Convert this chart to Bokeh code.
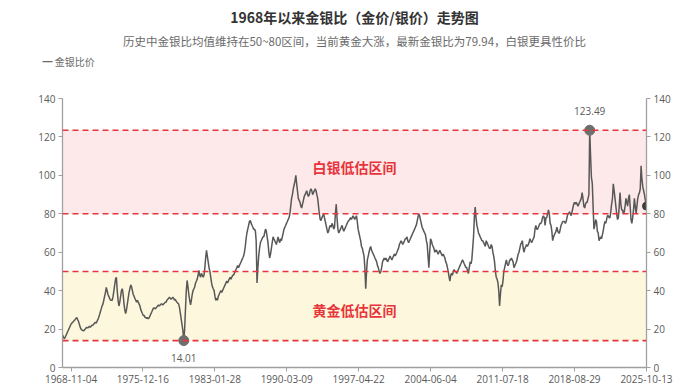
import pandas as pd
from bokeh.plotting import figure
from bokeh.models import (Range1d, LinearAxis, FixedTicker, DatetimeTickFormatter,
                          BoxAnnotation, Span, Label, Title, ColumnDataSource)
from bokeh.embed import file_html
from bokeh.resources import INLINE

# ---------------- data ----------------
title_text = "1968年以来金银比（金价/银价）走势图"
subtitle_text = "历史中金银比均值维持在50~80区间，当前黄金大涨，最新金银比为79.94，白银更具性价比"
series_name = "金银比价"
silver_zone_label = "白银低估区间"
gold_zone_label = "黄金低估区间"
zone_low_top = 50
zone_high_bottom = 80

x_tick_labels = ["1968-11-04", "1975-12-16", "1983-01-28", "1990-03-09", "1997-04-22",
                 "2004-06-04", "2011-07-18", "2018-08-29", "2025-10-13"]
y_ticks = [0, 20, 40, 60, 80, 100, 120, 140]

first_month = "1968-01-01"
last_date = "2025-10-13"

# monthly gold/silver ratio
ratio_1968_1979 = [
    17, 16, 15, 15.5, 16.5, 17.5, 18.5, 19.5, 20.5, 21.5, 22.5, 23,
    23.5, 24, 24.5, 25, 25.5, 26, 25, 24, 22.5, 21, 20, 19.5,
    19.3, 19, 19.5, 20, 20.5, 21, 20.5, 21, 21.5, 21, 21.5, 22,
    22, 22.5, 23, 23.5, 23, 24, 25, 26, 27.5, 29, 30.5, 32,
    33, 35, 37, 39, 41.7, 40, 38, 37, 36, 35, 35, 35,
    37, 40, 43, 46, 47, 40, 35, 32, 34, 37, 40, 41,
    38, 33, 30, 28, 30, 33, 36, 39, 41, 43, 42, 40,
    38, 37, 36, 35, 34, 35, 34, 33, 32, 30, 29, 28,
    27, 27, 26, 26, 25.5, 26, 25.3, 26, 27, 28, 29, 30,
    31, 31, 30.5, 31, 31.5, 32, 32.5, 32, 32.5, 33, 33, 32.5,
    33, 33.5, 34, 34, 35, 35.5, 36, 36.6, 36, 35.5, 36, 36.6,
    36, 35, 35.5, 34.5, 34, 33.5, 33, 31, 28, 25, 22, 19,
]
ratio_1980_1989 = [
    14.01, 20, 30, 40, 45.3, 42, 38, 35, 32.6, 35, 38, 40,
    41, 42, 44, 45, 46, 48, 50.5, 48, 47, 49, 48, 47,
    48, 52, 57, 61, 58, 55, 52, 50, 47, 44, 42, 41,
    40, 37, 35, 36, 35, 37, 38, 39, 40, 39, 40, 41,
    42, 43, 44, 45, 44, 45, 46, 47, 46, 47, 48, 48,
    49, 50, 51, 52, 53, 52, 53, 54, 55, 56, 57, 58,
    60, 63, 67, 70, 72, 74, 76, 76.5, 75, 74, 73, 72,
    72, 71, 66, 44, 52, 58, 62, 65, 66, 67, 68, 68,
    70, 72, 71, 68, 65, 60, 57, 59, 62, 65, 68, 67,
    66, 65, 64, 66, 68, 66, 65, 67, 66, 68, 70, 72,
]
ratio_1990_1999 = [
    73, 74, 75, 76, 77, 78, 80, 84, 88, 90, 93, 95,
    97, 100, 96, 92, 88, 87, 86, 84, 83, 85, 87, 89,
    90, 91, 92, 90, 89, 90, 92, 93, 92, 90, 91, 92,
    93, 92, 90, 88, 84, 80, 77, 76.5, 78, 79, 80, 78,
    76, 74, 72, 70, 71, 73, 74, 73, 75, 74, 72, 73,
    80, 85, 78, 72, 70, 71, 72, 73, 74, 72, 71, 72,
    73, 74, 75, 76, 76.5, 77, 78, 77, 78, 79, 78, 77,
    78, 79, 76, 72, 70, 68, 66, 63, 62, 60, 58, 52,
    41, 50, 56, 58, 60, 62, 63, 61, 60, 59, 58, 57,
    56, 55, 53, 52, 50, 49, 50, 52, 55, 56, 57, 56,
]
ratio_2000_2009 = [
    57, 56, 55, 56, 57, 58, 57, 56, 57, 58, 59, 58,
    59, 60, 61, 62, 64, 65, 66, 65, 64, 65, 66, 67,
    67, 68, 66, 65, 66, 67, 68, 69, 70, 71, 72, 73,
    74, 76, 78, 80, 79, 77, 75, 73, 72, 71, 70, 69,
    66, 64, 58, 52, 60, 67, 66, 64, 63, 62, 60, 61,
    61, 60, 59, 60, 61, 60, 59, 58, 59, 58, 57, 55,
    54, 52, 50, 47, 45, 48, 49, 48, 50, 51, 50, 50,
    49, 50, 51, 52, 53, 54, 55, 56, 55, 54, 53, 52,
    52, 50, 49, 52, 55, 54, 56, 62, 68, 78, 83.5, 78,
    74, 72, 70, 69, 68, 67, 66, 66, 65, 64, 63, 66,
]
ratio_2010_2019 = [
    65, 64, 63, 62, 62, 64, 63, 60, 58, 55, 50, 47,
    46, 44, 40, 32, 38, 43, 42, 45, 50, 52, 54, 56,
    54, 53, 54, 56, 56, 57, 56, 55, 52, 53, 54, 55,
    57, 59, 60, 62, 64, 65, 66, 62, 60, 62, 63, 64,
    63, 64, 65, 67, 66, 65, 66, 67, 68, 72, 74, 72,
    72, 73, 74, 75, 75, 76, 78, 79, 78, 74, 78, 78,
    80, 82, 80, 75, 74, 71, 66, 68, 69, 70, 71, 73,
    71, 70, 70, 72, 74, 75, 76, 76, 76, 75, 76, 78,
    80, 80, 81, 80, 79, 81, 83, 85, 86, 85, 86, 85,
    84, 85, 86, 87, 88, 91, 88, 84, 83, 85, 86, 86,
]
ratio_2020_2025 = [
    88, 90, 123.49, 110, 99, 96, 84, 72, 74, 77, 76, 71,
    70, 66, 67, 68, 67, 69, 71, 74, 76, 75, 77, 79,
    79, 78, 78, 81, 85, 88, 95.6, 92, 88, 84, 80, 77,
    78, 84, 91, 85, 82, 82, 80, 81, 84, 88, 86, 84,
    88, 90, 84, 77, 75, 78, 82, 88, 84, 80, 84, 88,
    90, 91, 93, 105, 98, 94, 92, 90, 87, 84,
]

# ---------------- assemble ----------------
ratios = (ratio_1968_1979 + ratio_1980_1989 + ratio_1990_1999 +
          ratio_2000_2009 + ratio_2010_2019 + ratio_2020_2025)
dates = list(pd.date_range(first_month, periods=len(ratios), freq="MS"))
dates[-1] = pd.Timestamp(last_date)
src = ColumnDataSource(dict(date=dates, ratio=ratios))

i_min = min(range(len(ratios)), key=lambda i: ratios[i])
i_max = max(range(len(ratios)), key=lambda i: ratios[i])
v_min, v_max = ratios[i_min], ratios[i_max]

CJK = "Noto Sans CJK SC"
NUM = "Open Sans"
AXIS_GREY = "#a0a0a0"
TEXT_GREY = "#5a5a5a"
RED = "#e8343b"

# layout (pixels of the canvas)
W, H = 690, 388
FL, FR, FT, FB = 62, 646, 98, 367          # frame edges

p = figure(width=W, height=H, x_axis_type="datetime", title=None,
           x_range=Range1d(dates[0], dates[-1]), y_range=Range1d(0, 140),
           output_backend="svg", toolbar_location=None,
           min_border_left=FL, min_border_right=W - FR, min_border_top=FT,
           min_border_bottom=H - FB)
p.outline_line_color = None
p.xgrid.grid_line_color = None
p.ygrid.grid_line_color = None
p.background_fill_color = "white"

# bands
p.add_layout(BoxAnnotation(bottom=zone_high_bottom, top=v_max, fill_color="#fde9e9",
                           fill_alpha=1, line_alpha=0, level="underlay"))
p.add_layout(BoxAnnotation(bottom=v_min, top=zone_low_top, fill_color="#fdf8dd",
                           fill_alpha=1, line_alpha=0, level="underlay"))
for lvl in [v_max, zone_high_bottom, zone_low_top, v_min]:
    p.add_layout(Span(location=lvl, dimension="width", line_color=RED,
                      line_dash="6 4", line_width=1.6))

# series
line_r = p.line("date", "ratio", source=src, line_color="#585858", line_width=1.5)

# markers
p.scatter([dates[i_min], dates[i_max]], [v_min, v_max], size=10, color="#6e6e6e")
p.scatter([dates[-1]], [ratios[-1]], size=8, color="#3c3c3c")
p.add_layout(Label(x=dates[i_min], y=v_min, text=f"{v_min:.2f}", text_align="center",
                   text_baseline="middle", y_offset=-17, text_font=NUM,
                   text_font_size="10px", text_color=TEXT_GREY))
p.add_layout(Label(x=dates[i_max], y=v_max, text=f"{v_max:.2f}", text_align="center",
                   text_baseline="middle", y_offset=19, text_font=NUM,
                   text_font_size="10px", text_color=TEXT_GREY))

# zone labels
x_mid = dates[0] + (dates[-1] - dates[0]) / 2
p.add_layout(Label(x=x_mid, y=(zone_high_bottom + v_max) / 2, text=silver_zone_label,
                   text_align="center", text_baseline="middle", y_offset=5,
                   text_font=CJK, text_font_size="14px", text_font_style="bold",
                   text_color=RED))
p.add_layout(Label(x=x_mid, y=(v_min + zone_low_top) / 2, text=gold_zone_label,
                   text_align="center", text_baseline="middle", y_offset=-4,
                   text_font=CJK, text_font_size="14px", text_font_style="bold",
                   text_color=RED))

# axes
p.xaxis.ticker = FixedTicker(ticks=[pd.Timestamp(d).value // 10**6 for d in x_tick_labels])
fmt = "%Y-%m-%d"
p.xaxis.formatter = DatetimeTickFormatter(milliseconds=fmt, seconds=fmt, minsec=fmt, minutes=fmt,
                                          hourmin=fmt, hours=fmt, days=fmt, months=fmt, years=fmt)
p.yaxis.ticker = FixedTicker(ticks=y_ticks)
right = LinearAxis(ticker=FixedTicker(ticks=y_ticks))
p.add_layout(right, "right")
for ax in [p.xaxis[0], p.yaxis[0], right]:
    ax.axis_line_color = AXIS_GREY
    ax.axis_line_width = 1.3
    ax.major_tick_line_color = AXIS_GREY
    ax.major_tick_in = 0
    ax.major_tick_out = 4
    ax.minor_tick_line_color = None
    ax.major_label_text_font = NUM
    ax.major_label_text_font_size = "10px"
    ax.major_label_text_color = TEXT_GREY
    ax.major_label_standoff = 3

# titles & legend in the panel above the frame (first added = closest to frame);
# a blank spacer keeps the stacked panels filling the whole top border
p.add_layout(Title(text=" ", standoff=23.6, text_font_size="2px"), "above")
p.add_layout(Title(text="━ " + series_name, align="left", offset=-20, standoff=4,
                   text_font=CJK, text_font_size="10px", text_font_style="normal",
                   text_color="#6a6a6a"), "above")
p.add_layout(Title(text=subtitle_text, align="center", standoff=1,
                   text_font=CJK, text_font_size="11.5px", text_font_style="normal",
                   text_color="#6a6a6a"), "above")
p.add_layout(Title(text=title_text, align="center", standoff=7,
                   text_font=CJK, text_font_size="14px", text_font_style="bold",
                   text_color="#333333"), "above")

open("out.html", "w").write(file_html(p, INLINE))
